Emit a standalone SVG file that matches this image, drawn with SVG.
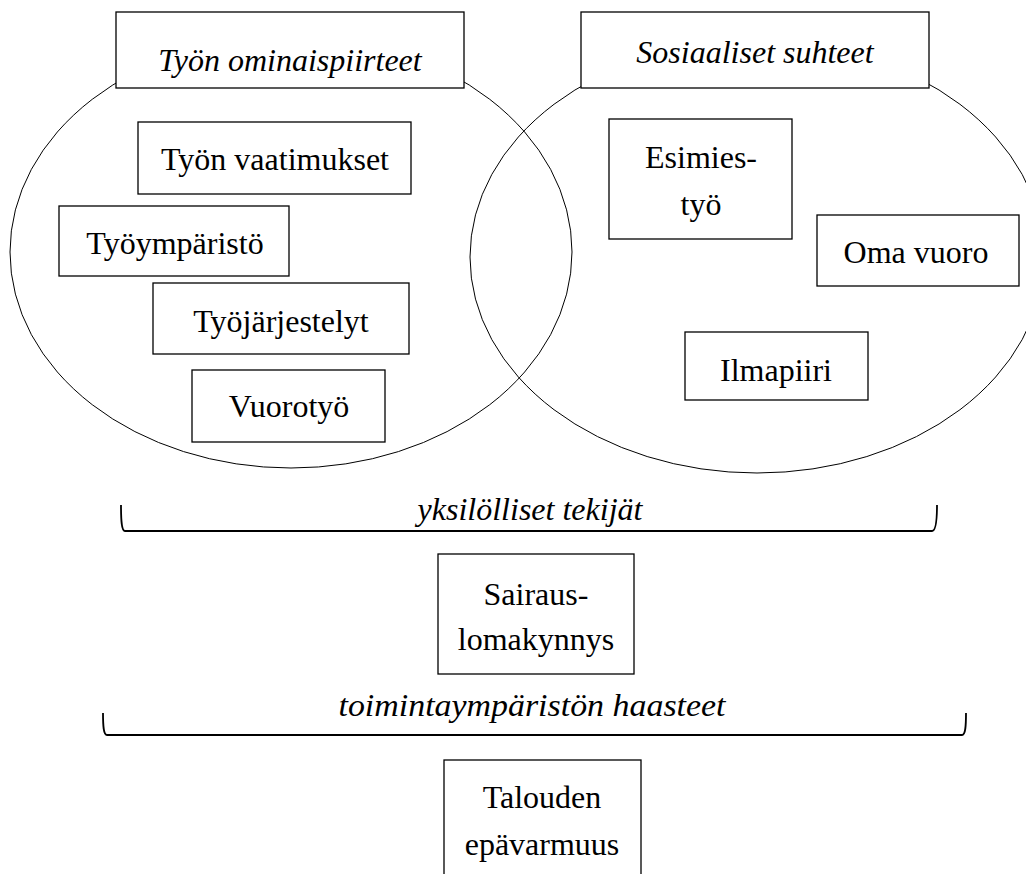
<svg xmlns="http://www.w3.org/2000/svg" width="1026" height="874" viewBox="0 0 1026 874">
<style>
  .bg { fill: #ffffff; }
  .ell { fill: none; stroke: #000000; stroke-width: 1; }
  .box { fill: #ffffff; stroke: #000000; stroke-width: 1.3; }
  .brk { fill: none; stroke: #000000; stroke-width: 1.8; }
  .t { font-family: "Liberation Serif", "Times New Roman", serif; font-size: 32px; fill: #000000; text-anchor: middle; }
  .it { font-style: italic; }
</style>
<rect class="bg" x="0" y="0" width="1026" height="874"/>
<g id="circles">
  <ellipse id="ellipse-left" class="ell" cx="291" cy="252" rx="281" ry="216"/>
  <ellipse id="ellipse-right" class="ell" cx="757" cy="257" rx="287" ry="216"/>
</g>
<g id="title-tyon-ominaispiirteet">
  <rect class="box" x="116" y="12" width="348" height="76"/>
  <text class="t it" x="290" y="71">Työn ominaispiirteet</text>
</g>
<g id="title-sosiaaliset-suhteet">
  <rect class="box" x="581" y="12" width="348" height="76"/>
  <text class="t it" x="755" y="63">Sosiaaliset suhteet</text>
</g>
<g id="node-tyon-vaatimukset">
  <rect class="box" x="138" y="122" width="273" height="72"/>
  <text class="t" x="275" y="170">Työn vaatimukset</text>
</g>
<g id="node-tyoymparisto">
  <rect class="box" x="59" y="206" width="230" height="70"/>
  <text class="t" x="175" y="254">Työympäristö</text>
</g>
<g id="node-tyojarjestelyt">
  <rect class="box" x="153" y="283" width="256" height="71"/>
  <text class="t" x="281" y="332">Työjärjestelyt</text>
</g>
<g id="node-vuorotyo">
  <rect class="box" x="192" y="370" width="193" height="72"/>
  <text class="t" x="289" y="417">Vuorotyö</text>
</g>
<g id="node-esimiestyo">
  <rect class="box" x="609" y="119" width="183" height="120"/>
  <text class="t" x="701" y="168">Esimies-</text>
  <text class="t" x="701" y="215">työ</text>
</g>
<g id="node-oma-vuoro">
  <rect class="box" x="817" y="215" width="202" height="71"/>
  <text class="t" x="916" y="263">Oma vuoro</text>
</g>
<g id="node-ilmapiiri">
  <rect class="box" x="685" y="332" width="183" height="68"/>
  <text class="t" x="776" y="381">Ilmapiiri</text>
</g>
<g id="connectors">
  <path id="bracket-yksilolliset" class="brk" d="M121,505 C121,520 121.5,531 125,531 H932 C935.5,531 937,520 937,505"/>
  <path id="bracket-toimintaymparisto" class="brk" d="M103,713 C103,726 103.5,735 107,735 H962 C965.5,735 966,726 966,713"/>
</g>
<g id="label-yksilolliset-tekijat">
  <text class="t it" x="530" y="520">yksilölliset tekijät</text>
</g>
<g id="node-sairauslomakynnys">
  <rect class="box" x="438" y="554" width="196" height="120"/>
  <text class="t" x="536" y="605">Sairaus-</text>
  <text class="t" x="536" y="650">lomakynnys</text>
</g>
<g id="label-toimintaympariston-haasteet">
  <text class="t it" x="532" y="716" textLength="387" lengthAdjust="spacingAndGlyphs">toimintaympäristön haasteet</text>
</g>
<g id="node-talouden-epavarmuus">
  <rect class="box" x="444" y="760" width="197" height="130"/>
  <text class="t" x="542" y="808">Talouden</text>
  <text class="t" x="542" y="855">epävarmuus</text>
</g>
</svg>
